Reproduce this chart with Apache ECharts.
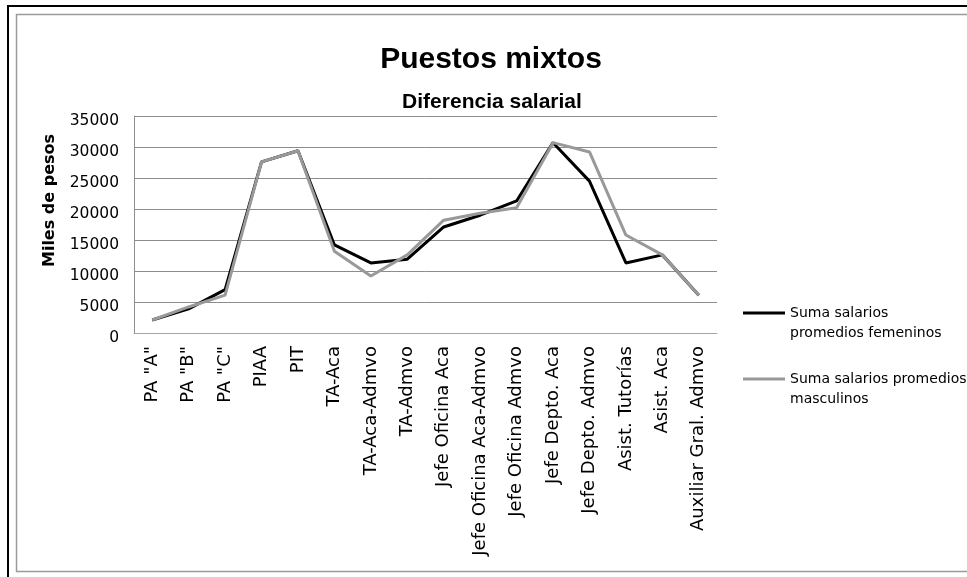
<!DOCTYPE html>
<html>
<head>
<meta charset="utf-8">
<script src="https://cdn.jsdelivr.net/npm/echarts@6/dist/echarts.min.js"></script>
<style>
  html, body { margin: 0; padding: 0; background: #fff; }
  #chart { width: 967px; height: 577px; }
</style>
</head>
<body>
<div id="chart"></div>
<script>
// Job categories along the horizontal axis
const categories = [
  'PA "A"', 'PA "B"', 'PA "C"', 'PIAA', 'PIT', 'TA-Aca', 'TA-Aca-Admvo', 'TA-Admvo',
  'Jefe Oficina Aca', 'Jefe Oficina Aca-Admvo', 'Jefe Oficina Admvo', 'Jefe Depto. Aca',
  'Jefe Depto. Admvo', 'Asist. Tutorías', 'Asist. Aca', 'Auxiliar Gral. Admvo'
];

// Summed average salaries (miles de pesos)
const femeninos = [2100, 3900, 7000, 27600, 29400, 14200, 11300, 11900, 17100, 19000, 21300, 30700, 24500, 11300, 12600, 6100];
const masculinos = [2100, 4200, 6100, 27600, 29400, 13200, 9200, 12600, 18200, 19300, 20200, 30700, 29200, 15800, 12600, 6100];

const nameFem = 'Suma salarios promedios femeninos';
const nameMasc = 'Suma salarios promedios masculinos';
// Wrapped legend labels; the leading blank line keeps the key line level with the first text line
const legendText = {};
legendText[nameFem] = '\nSuma salarios\npromedios femeninos';
legendText[nameMasc] = '\nSuma salarios promedios\nmasculinos';

const yMax = 35000;
const yStep = 5000;

const FONT = 'DejaVu Sans';

const legendStyle = {
  fontFamily: FONT,
  fontSize: 14,
  color: '#000',
  lineHeight: 20
};

const chart = echarts.init(document.getElementById('chart'), null, { renderer: 'canvas' });

chart.setOption({
  backgroundColor: '#fff',
  animation: false,
  title: [
    {
      text: 'Puestos mixtos',
      left: 486, top: 40, textAlign: 'center',
      textStyle: { fontFamily: 'Liberation Sans', fontWeight: 'bold', fontSize: 30, color: '#000' }
    },
    {
      text: 'Diferencia salarial',
      left: 487, top: 87, textAlign: 'center',
      textStyle: { fontFamily: 'Liberation Sans', fontWeight: 'bold', fontSize: 21, color: '#000' }
    }
  ],
  legend: [
    {
      data: [nameFem], left: 743, top: 283, padding: 0,
      itemWidth: 42, itemHeight: 14, icon: 'path://M0,6 L42,6 L42,9 L0,9 Z',
      itemStyle: { color: '#000' },
      formatter: n => legendText[n], textStyle: legendStyle
    },
    {
      data: [nameMasc], left: 743, top: 349, padding: 0,
      itemWidth: 42, itemHeight: 14, icon: 'path://M0,6 L42,6 L42,9 L0,9 Z',
      itemStyle: { color: '#999' },
      formatter: n => legendText[n], textStyle: legendStyle
    }
  ],
  grid: { left: 134, top: 116, width: 583, height: 217, containLabel: false },
  xAxis: {
    type: 'category',
    data: categories,
    boundaryGap: true,
    axisLine: { show: true, lineStyle: { color: '#a6a6a6', width: 1 } },
    axisTick: { show: false },
    axisLabel: {
      rotate: 90, margin: 13, interval: 0,
      fontFamily: FONT, fontSize: 18, color: '#000'
    },
    splitLine: { show: false }
  },
  yAxis: {
    type: 'value',
    min: 0, max: yMax, interval: yStep,
    name: 'Miles de pesos',
    nameLocation: 'middle',
    nameRotate: 90,
    nameGap: 76,
    nameTextStyle: {
      fontFamily: FONT, fontWeight: 'bold', fontSize: 16, color: '#000',
      padding: [0, 0, 0, 48]
    },
    axisLine: { show: true, lineStyle: { color: '#8c8c8c', width: 1 } },
    axisTick: { show: false },
    axisLabel: {
      margin: 15, color: '#000',
      formatter: v => '{v|' + v + '}',
      rich: {
        v: { fontFamily: FONT, fontSize: 15.5, color: '#000', padding: [10, 0, 0, 0] }
      }
    },
    splitLine: { show: true, lineStyle: { color: '#8c8c8c', width: 1 } }
  },
  series: [
    {
      name: nameFem, type: 'line', data: femeninos,
      symbol: 'none', smooth: false,
      lineStyle: { color: '#000', width: 3 },
      itemStyle: { color: '#000' },
      z: 2
    },
    {
      name: nameMasc, type: 'line', data: masculinos,
      symbol: 'none', smooth: false,
      lineStyle: { color: '#999', width: 3 },
      itemStyle: { color: '#999' },
      z: 3
    }
  ],
  graphic: [
    // outer frame
    { type: 'polyline', silent: true, shape: { points: [[8, 577], [8, 6], [967, 6]] },
      style: { stroke: '#000', lineWidth: 2, fill: null } },
    // inner chart-area frame
    { type: 'polyline', silent: true, shape: { points: [[967, 14.5], [16.5, 14.5], [16.5, 571.5], [967, 571.5]] },
      style: { stroke: '#9a9a9a', lineWidth: 1.5, fill: null } }
  ]
});
</script>
</body>
</html>
